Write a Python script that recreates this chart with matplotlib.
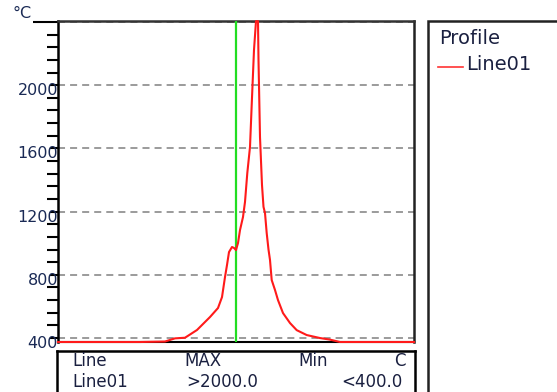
import matplotlib
matplotlib.use("Agg")
import matplotlib.pyplot as plt
import matplotlib.transforms as mtransforms
from matplotlib.patches import Rectangle
from matplotlib.lines import Line2D

# ---- data ----
positions = [0, 82, 107, 117, 127, 139, 152, 160, 164, 167, 169, 171, 174, 176,
             178, 180, 182, 185, 187, 189.3, 192, 193.7, 196, 198, 200, 200.5,
             202, 204, 205.5, 207, 208.7, 210.5, 212, 213.7, 217, 220, 225,
             232, 238.7, 248.7, 262, 272, 282, 356]
temps = [375, 375, 378, 398, 402, 451, 533, 590, 659, 786, 862, 944, 976, 970,
         957, 1001, 1083, 1166, 1261, 1444, 1609, 1875, 2223, 2405, 2405, 2160,
         1672, 1368, 1230, 1191, 1064, 960, 894, 767, 704, 640, 558,
         495, 450, 419, 400, 390, 375, 375]
cursor_pos = 178
yticks = [400, 800, 1200, 1600, 2000, 2400]
ytick_labels = ["400", "800", "1200", "1600", "2000", ""]
table_header = ["Line", "MAX", "Min", "C"]
table_row = ["Line01", ">2000.0", "<400.0"]
legend_title = "Profile"
series_name = "Line01"

W, H = 557, 392
fig = plt.figure(figsize=(W / 100, H / 100), dpi=100)
fig.patch.set_facecolor("white")

def fx(px):
    return px / W

def fy(py):
    return 1 - py / H

ax = fig.add_axes([fx(58), fy(342), fx(414) - fx(58), fy(21) - fy(342)])
ax.set_xlim(0, 356)
ax.set_ylim(375, 2406)

for v in yticks:
    ax.axhline(v, color="#808080", lw=1.1, dashes=(4.6, 3.3), zorder=1)

ax.axvline(cursor_pos, color="#22dd22", lw=1.6, zorder=3)
ax.plot(positions, temps, color="#ff1a1a", lw=1.5, zorder=4, clip_on=False)

ax.set_xticks([])
ax.set_yticks(yticks)
ax.set_yticklabels(ytick_labels)
ax.set_yticks(range(480, 2400, 80), minor=True)
ax.tick_params(axis="y", which="major", length=6, width=1.5, color="black",
               pad=-6, labelsize=11.5, labelcolor="#1a2a55")
ax.tick_params(axis="y", which="minor", length=8, width=1.5, color="black")
ax.yaxis.get_major_ticks()[-1].tick1line.set_markersize(18)
offset = mtransforms.ScaledTranslation(0, -4 / 100, fig.dpi_scale_trans)
for lab in ax.get_yticklabels():
    lab.set_transform(lab.get_transform() + offset)
    lab.set_zorder(5)

ax.spines["left"].set_linewidth(1.8)
ax.spines["left"].set_color("black")
ax.spines["top"].set_linewidth(1.8)
ax.spines["top"].set_color("#333333")
ax.spines["right"].set_linewidth(1.8)
ax.spines["right"].set_color("#222222")
ax.spines["bottom"].set_linewidth(1.5)
ax.spines["bottom"].set_color("black")

fig.text(fx(12), fy(14), "°C", fontsize=11.5, color="#1a2a55", va="center", ha="left")

# ---- table below ----
tab = fig.add_axes([fx(57), -0.05, fx(415) - fx(57), fy(351) + 0.05])
tab.set_xlim(57, 415)
tab.set_ylim(392 + 0.05 * H, 351)
tab.set_xticks([])
tab.set_yticks([])
for s in tab.spines.values():
    s.set_linewidth(1.8)
    s.set_color("black")
hx = [72, 184, 298, 394]
for x, t in zip(hx, table_header):
    tab.text(x, 361, t, fontsize=12, color="#1a2040", va="center", ha="left", clip_on=True)
rx = [72, 186, 341]
for x, t in zip(rx, table_row):
    tab.text(x, 382, t, fontsize=12, color="#1a2040", va="center", ha="left", clip_on=True)

# ---- legend panel ----
fig.patches.append(Rectangle((fx(428), -0.1), 1.0, fy(21) + 0.1, transform=fig.transFigure,
                             fill=False, edgecolor="#222222", lw=1.8))
fig.text(fx(439), fy(38), legend_title, fontsize=14, color="#1a2040", va="center", ha="left")
fig.lines.append(Line2D([fx(438), fx(463)], [fy(67), fy(67)], transform=fig.transFigure,
                        color="#ff3333", lw=1.2))
fig.text(fx(466), fy(64), series_name, fontsize=14, color="#1a2040", va="center", ha="left")

fig.savefig("out.png", dpi=100, facecolor="white")
